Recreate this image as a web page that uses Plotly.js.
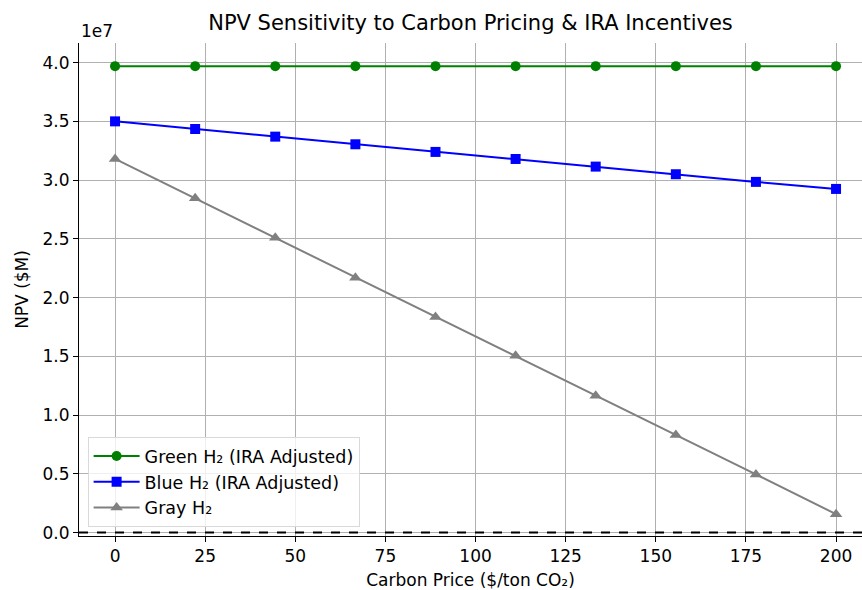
<!DOCTYPE html>
<html>
<head>
<meta charset="utf-8">
<script src="https://cdn.plot.ly/plotly-3.0.1.min.js"></script>
<style>html,body{margin:0;padding:0;background:#fff;}#chart{width:862px;height:590px;}</style>
</head>
<body>
<div id="chart"></div>
<script>
const carbonPrice = [0, 22.22, 44.44, 66.67, 88.89, 111.11, 133.33, 155.56, 177.78, 200];
const greenNPV = [3.97e7, 3.97e7, 3.97e7, 3.97e7, 3.97e7, 3.97e7, 3.97e7, 3.97e7, 3.97e7, 3.97e7];
const blueNPV = [3.50e7, 3.435e7, 3.37e7, 3.305e7, 3.24e7, 3.18e7, 3.115e7, 3.05e7, 2.985e7, 2.925e7];
const grayNPV = [3.18e7, 2.845e7, 2.51e7, 2.17e7, 1.835e7, 1.505e7, 1.165e7, 0.83e7, 0.495e7, 0.157e7];
const yTickVals = [0, 0.5e7, 1.0e7, 1.5e7, 2.0e7, 2.5e7, 3.0e7, 3.5e7, 4.0e7];
const yTickText = ["0.0", "0.5", "1.0", "1.5", "2.0", "2.5", "3.0", "3.5", "4.0"];
const xTickVals = [0, 25, 50, 75, 100, 125, 150, 175, 200];
const seriesNames = ["Green H₂ (IRA Adjusted)", "Blue H₂ (IRA Adjusted)", "Gray H₂"];

const font = "DejaVu Sans";
const fs = 17;
const traces = [
  {x: carbonPrice, y: greenNPV, name: seriesNames[0], mode: "lines+markers", legendgroup: "g1",
   line: {color: "#008000", width: 2}, marker: {symbol: "circle", size: 10, color: "#008000"}},
  {x: carbonPrice, y: blueNPV, name: seriesNames[1], mode: "lines+markers", legendgroup: "g2",
   line: {color: "#0000ff", width: 2}, marker: {symbol: "square", size: 10, color: "#0000ff"}},
  {x: carbonPrice, y: grayNPV, name: seriesNames[2], mode: "lines+markers", legendgroup: "g3",
   line: {color: "#808080", width: 2}, marker: {symbol: "triangle-up", size: 11, color: "#808080"}}
];

const layout = {
  width: 862, height: 590,
  margin: {l: 79, r: 0, t: 43, b: 54},
  paper_bgcolor: "#fff", plot_bgcolor: "#fff",
  font: {family: font, color: "#000", size: fs},
  title: {text: "NPV Sensitivity to Carbon Pricing & IRA Incentives", font: {family: font, size: 21, color: "#000"},
          x: 0.5, xref: "paper", y: 1, yref: "container", yanchor: "top", pad: {t: 15}},
  xaxis: {range: [-10, 207.2], tickvals: xTickVals, ticks: "outside", ticklen: 5, tickwidth: 1, tickcolor: "#000",
          showgrid: true, gridcolor: "#b0b0b0", gridwidth: 1, zeroline: false,
          showline: true, linecolor: "#000", linewidth: 1, mirror: false,
          tickfont: {family: font, size: fs, color: "#000"},
          title: {text: "Carbon Price ($/ton CO₂)", font: {family: font, size: fs, color: "#000"}, standoff: 8}},
  yaxis: {range: [-0.029e7, 4.167e7], tickvals: yTickVals, ticktext: yTickText, ticks: "outside", ticklen: 5, tickwidth: 1, tickcolor: "#000",
          showgrid: true, gridcolor: "#b0b0b0", gridwidth: 1, zeroline: false,
          showline: true, linecolor: "#000", linewidth: 1, mirror: true,
          tickfont: {family: font, size: fs, color: "#000"},
          title: {text: "NPV ($M)", font: {family: font, size: fs, color: "#000"}, standoff: 9}},
  showlegend: true,
  legend: {x: 0.011, y: 0.018, xanchor: "left", yanchor: "bottom", bgcolor: "rgba(255,255,255,0.8)",
           bordercolor: "#d9d9d9", borderwidth: 1, font: {family: font, size: 17.5, color: "#000"},
           tracegroupgap: 0, itemwidth: 46},
  shapes: [
    {type: "line", xref: "paper", x0: 0, x1: 1, yref: "y", y0: 0, y1: 0,
     line: {color: "#000", width: 2, dash: "dash"}}
  ],
  annotations: [
    {text: "1e7", xref: "paper", yref: "paper", x: 0, y: 1, xanchor: "left", yanchor: "bottom",
     showarrow: false, font: {family: font, size: fs, color: "#000"}, yshift: 0}
  ]
};

Plotly.newPlot("chart", traces, layout, {displayModeBar: false, staticPlot: true});
</script>
</body>
</html>
